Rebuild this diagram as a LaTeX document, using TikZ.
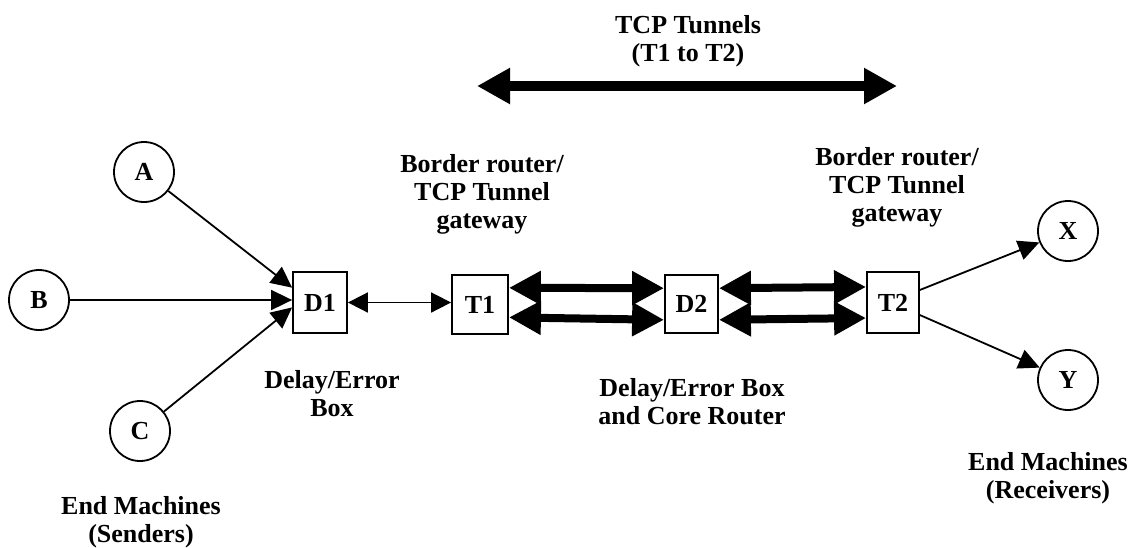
\documentclass[tikz,border=0pt]{standalone}
\usepackage{fontspec}
\setmainfont{Liberation Serif}
\usetikzlibrary{arrows.meta}

\tikzset{
  txt/.style={font=\bfseries\fontsize{13}{14}\selectfont},
  lbl/.style={txt, align=center, inner sep=0pt, anchor=base},
  host/.style={txt, draw, circle, line width=0.9pt, minimum size=30pt, inner sep=0pt},
  gw/.style={txt, draw, rectangle, line width=0.9pt, minimum width=27pt, minimum height=30pt, inner sep=0pt},
  link/.style={line width=0.9pt, -{Triangle[length=10.5pt,width=10pt]}},
  duplex/.style={line width=0.9pt, {Triangle[length=10pt,width=10pt]}-{Triangle[length=10pt,width=10pt]}},
  tunnel/.style={line width=4pt, {Triangle[length=16pt,width=16pt]}-{Triangle[length=16pt,width=16pt]}}
}

\begin{document}
\begin{tikzpicture}[x=0.5pt, y=-0.5pt]
	\useasboundingbox (0,0) rectangle (1136,547);

	%Senders
	\node[host] (A) at (144,172) {A};
	\node[host] (B) at (39,300) {B};
	\node[host] (C) at (140,431) {C};

	%Boxes and tunnel gateways
	\node[gw, minimum width=27pt, minimum height=30.5pt] (D1) at (320,302.5) {D1};
	\node[gw, minimum width=28pt, minimum height=29.5pt] (T1) at (480,304.5) {T1};
	\node[gw, minimum width=26.5pt, minimum height=29pt] (D2) at (691.5,304) {D2};
	\node[gw, minimum width=26pt, minimum height=30.5pt] (T2) at (893,302.5) {T2};

	%Receivers
	\node[host] (X) at (1068,231) {X};
	\node[host] (Y) at (1068,380) {Y};

	%Senders to D1
	\draw[link] (A) -- (D1.152);
	\draw[link] (B) -- (B -| D1.west);
	\draw[link] (C) -- (D1.190);

	%D1 to T1
	\draw[duplex] (D1.east) -- (D1.east -| T1.west);

	%Tunnel links
	\draw[tunnel] (T1.30) -- (D2.150);
	\draw[tunnel] (T1.-24) -- (D2.-150);
	\draw[tunnel] (D2.30) -- (T2.150);
	\draw[tunnel] (D2.-30) -- (T2.-150);

	%T2 to receivers
	\draw[link] (T2.25) -- (X);
	\draw[link] (T2.-25) -- (Y);

	%TCP tunnel span
	\coordinate (span1) at (477,86);
	\coordinate (span2) at (897,86);
	\draw[tunnel, line width=5pt, {Triangle[length=16.5pt,width=17pt]}-{Triangle[length=16.5pt,width=17pt]}] (span1) -- (span2);

	%Labels (anchored at the last line)
	\node[lbl] (Ltun) at (688,61) {TCP Tunnels\\(T1 to T2)};
	\node[lbl] (Lgw1) at (482,228) {Border router/\\TCP Tunnel\\gateway};
	\node[lbl] (Lgw2) at (897,221) {Border router/\\TCP Tunnel\\gateway};
	\node[lbl] (Ldel1) at (332,416) {Delay/Error\\Box};
	\node[lbl] (Ldel2) at (692,424) {Delay/Error Box\\and Core Router};
	\node[lbl] (Lsnd) at (141,542) {End Machines\\(Senders)};
	\node[lbl] (Lrcv) at (1048,498) {End Machines\\(Receivers)};
\end{tikzpicture}
\end{document}
